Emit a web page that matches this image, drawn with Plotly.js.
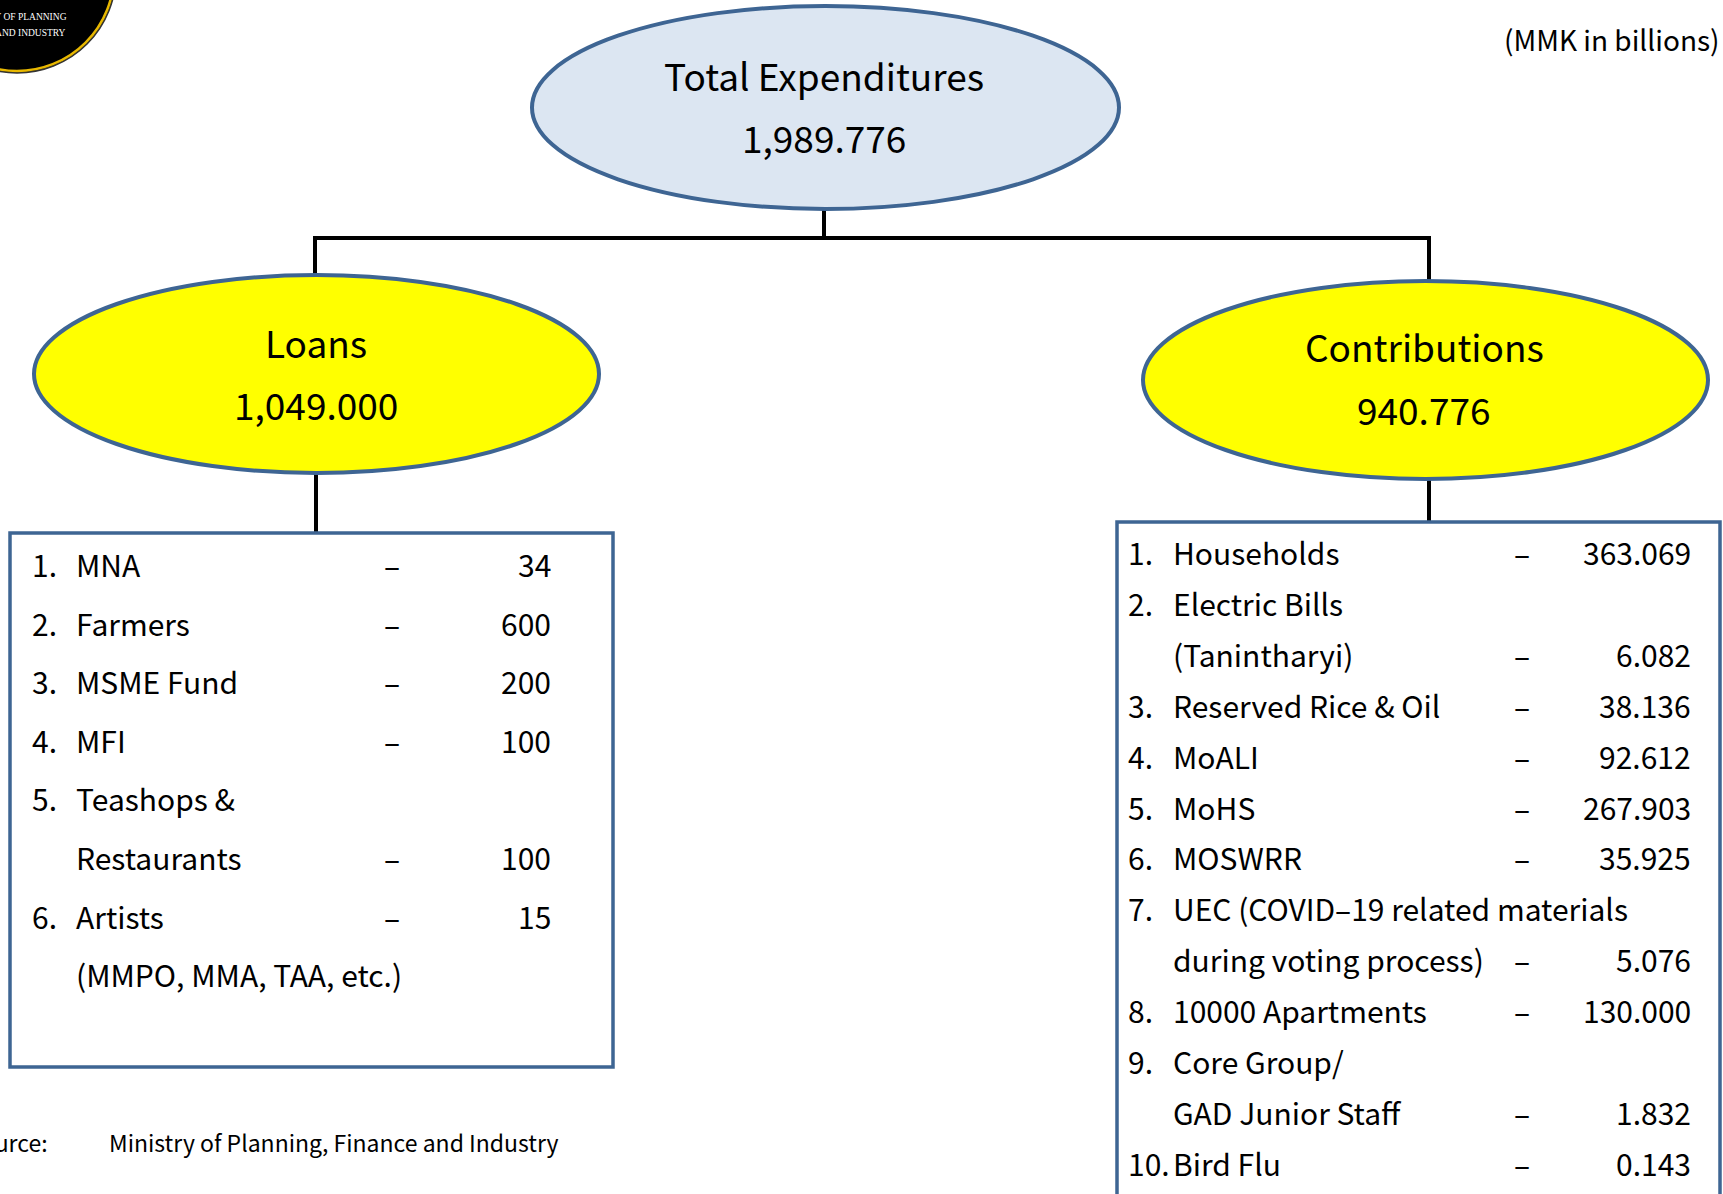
<!DOCTYPE html>
<html>
<head>
<meta charset="utf-8">
<script src="https://cdn.plot.ly/plotly-3.0.1.min.js"></script>
<style>html,body{margin:0;padding:0;background:#fff;}#chart{width:1723px;height:1194px;}</style>
</head>
<body>
<div id="chart"></div>
<script>
// ---- data ----
const totalLabel = "Total Expenditures";
const totalValue = 1989.776;
const groupLabels = ["Loans", "Contributions"];
const groupValues = [1049.000, 940.776];

const loanNumbers = ["1.", "2.", "3.", "4.", "5.", "", "6.", ""];
const loanLabels = ["MNA", "Farmers", "MSME Fund", "MFI", "Teashops &", "Restaurants", "Artists", "(MMPO, MMA, TAA, etc.)"];
const loanValues = [34, 600, 200, 100, null, 100, 15, null];

const contribNumbers = ["1.", "2.", "", "3.", "4.", "5.", "6.", "7.", "", "8.", "9.", "", "10."];
const contribLabels = ["Households", "Electric Bills", "(Tanintharyi)", "Reserved Rice & Oil", "MoALI", "MoHS", "MOSWRR",
  "UEC (COVID\u201319 related materials", "during voting process)", "10000 Apartments", "Core Group/", "GAD Junior Staff", "Bird Flu"];
const contribValues = [363.069, null, 6.082, 38.136, 92.612, 267.903, 35.925, null, 5.076, 130.000, null, 1.832, 0.143];

const unitNote = "(MMK in billions)";
const sourceLabel = "Source:";
const sourceText = "Ministry of Planning, Finance and Industry";
const logoLines = ["MINISTRY OF PLANNING", "FINANCE AND INDUSTRY"];

// ---- styling ----
const FONT = "Noto Sans CJK JP, Source Sans Pro, Noto Sans, sans-serif";
const BLUE = "#3E6593";
const fmt3 = v => v.toLocaleString("en-US", {minimumFractionDigits: 3, maximumFractionDigits: 3});

const shapes = [];
const ann = [];
function txt(x, y, text, size, xanchor, extra) {
  ann.push(Object.assign({x: x, y: y, xref: "x", yref: "y", text: text, showarrow: false,
    xanchor: xanchor || "center", yanchor: "middle",
    font: {family: FONT, size: size, color: "#000"}}, extra || {}));
}
function line(x0, y0, x1, y1, w) {
  shapes.push({type: "line", x0: x0, y0: y0, x1: x1, y1: y1, xref: "x", yref: "y",
    line: {color: "#000", width: w || 4}});
}

// logo (partially off-page)
shapes.push({type: "circle", x0: -82, x1: 116, y0: -125, y1: 73, xref: "x", yref: "y",
  fillcolor: "#000", line: {color: "#333", width: 1.5}});
shapes.push({type: "circle", x0: -80, x1: 114, y0: -123, y1: 71, xref: "x", yref: "y",
  fillcolor: "rgba(0,0,0,0)", line: {color: "#E8B800", width: 2.5}});
const logoFont = {family: "Liberation Serif, serif", size: 9.5, color: "#fff"};
txt(69, 17, logoLines[0], 9.5, "right", {font: logoFont});
txt(68, 33, logoLines[1], 9.5, "right", {font: logoFont});

// connectors
line(824, 210, 824, 238);
line(313, 238, 1429, 238);
line(315, 236, 315, 276);
line(1429, 236, 1429, 281);
line(316, 473, 316, 533);
line(1429, 479, 1429, 522);

// ellipses
shapes.push({type: "circle", x0: 532, x1: 1119, y0: 6, y1: 209, xref: "x", yref: "y",
  fillcolor: "#DCE6F2", line: {color: BLUE, width: 4}});
shapes.push({type: "circle", x0: 34, x1: 599, y0: 275, y1: 473, xref: "x", yref: "y",
  fillcolor: "#FFFF00", line: {color: BLUE, width: 4}});
shapes.push({type: "circle", x0: 1143, x1: 1708, y0: 281, y1: 479, xref: "x", yref: "y",
  fillcolor: "#FFFF00", line: {color: BLUE, width: 4}});

// boxes
shapes.push({type: "rect", x0: 10, x1: 613, y0: 533, y1: 1067, xref: "x", yref: "y",
  fillcolor: "#fff", line: {color: BLUE, width: 3.5}});
shapes.push({type: "rect", x0: 1117, x1: 1720, y0: 522, y1: 1210, xref: "x", yref: "y",
  fillcolor: "#fff", line: {color: BLUE, width: 3.5}});

// ellipse texts
const ESZ = 37;
txt(824, 75, totalLabel, ESZ);
txt(824, 137, fmt3(totalValue), ESZ);
txt(316, 342, groupLabels[0], ESZ);
txt(316, 404, fmt3(groupValues[0]), ESZ);
txt(1424, 346, groupLabels[1], ESZ);
txt(1424, 409, fmt3(groupValues[1]), ESZ);

// loan list
const LSZ = 30;
loanLabels.forEach((lab, i) => {
  const y = 564 + i * 58.6;
  if (loanNumbers[i]) txt(30, y, loanNumbers[i], LSZ, "left");
  txt(74, y, lab, LSZ, "left");
  if (loanValues[i] !== null) {
    txt(392, y, "\u2013", LSZ, "center");
    txt(553, y, String(loanValues[i]), LSZ, "right");
  }
});

// contribution list
contribLabels.forEach((lab, i) => {
  const y = 552 + i * 50.9;
  if (contribNumbers[i]) txt(1126, y, contribNumbers[i], LSZ, "left");
  txt(1171, y, lab, LSZ, "left");
  if (contribValues[i] !== null) {
    txt(1522, y, "\u2013", LSZ, "center");
    txt(1693, y, fmt3(contribValues[i]), LSZ, "right");
  }
});

// notes
txt(1722, 39, unitNote, 28, "right");
txt(50, 1142, sourceLabel, 23, "right");
txt(107, 1142, sourceText, 23, "left");

const layout = {
  width: 1723, height: 1194,
  margin: {l: 0, r: 0, t: 0, b: 0},
  paper_bgcolor: "#fff", plot_bgcolor: "#fff",
  showlegend: false,
  xaxis: {range: [0, 1723], visible: false, fixedrange: true},
  yaxis: {range: [1194, 0], visible: false, fixedrange: true},
  shapes: shapes,
  annotations: ann
};
Plotly.newPlot("chart", [{x: [0], y: [0], mode: "markers", marker: {opacity: 0}, hoverinfo: "skip"}], layout, {staticPlot: true, displayModeBar: false});
</script>
</body>
</html>
